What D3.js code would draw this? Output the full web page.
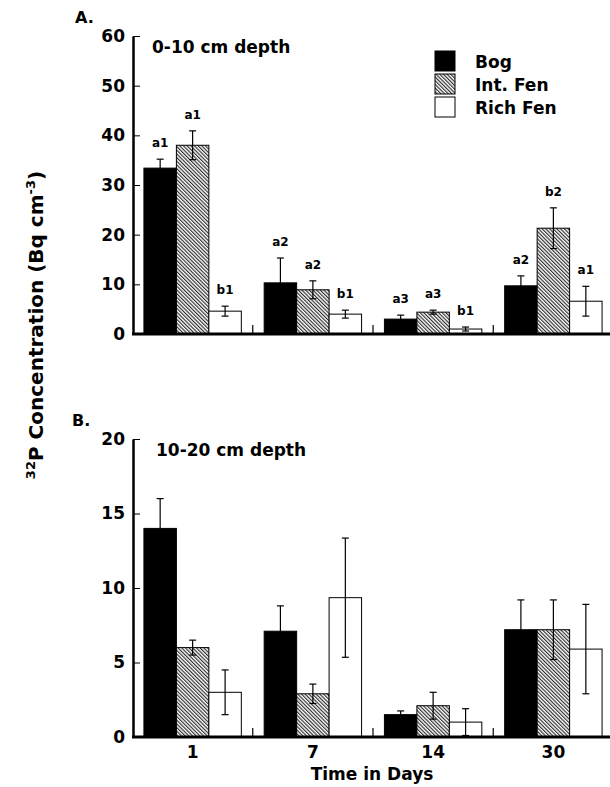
<!DOCTYPE html>
<html lang="en">
<head>
    <meta charset="UTF-8">
    <title>32P Concentration by Depth</title>
    <script src="https://d3js.org/d3.v7.min.js"></script>
    <style>
        body {
            margin: 0;
            background: #fff;
        }
        svg text {
            font-family: "DejaVu Sans", "Liberation Sans", Arial, sans-serif;
            font-weight: bold;
            fill: #000;
        }
        .axis path, .axis line {
            stroke: #000;
        }
        .axis .domain {
            stroke-width: 2.5px;
        }
        .axis .tick line {
            stroke-width: 1px;
        }
        .axis text {
            font-size: 17px;
        }
        .bar {
            stroke: #000;
            stroke-width: 1px;
        }
        .err {
            stroke: #000;
            stroke-width: 1.2px;
        }
        .letter {
            font-size: 12px;
        }
    </style>
</head>
<body>
    <div class="chart"></div>
    <script>
        const days = ['1', '7', '14', '30'];
        const sites = ['Bog', 'Int. Fen', 'Rich Fen'];

        // 0-10 cm depth, one row per site, one value per day
        const shallowMean = [
            [33.4, 10.3, 3.0, 9.7],
            [38.0, 8.9, 4.4, 21.3],
            [4.6, 4.0, 1.0, 6.6]
        ];
        const shallowErr = [
            [1.8, 5.0, 0.8, 2.0],
            [2.9, 1.8, 0.4, 4.1],
            [1.0, 0.8, 0.4, 3.0]
        ];
        const shallowLetters = [
            ['a1', 'a2', 'a3', 'a2'],
            ['a1', 'a2', 'a3', 'b2'],
            ['b1', 'b1', 'b1', 'a1']
        ];

        // 10-20 cm depth
        const deepMean = [
            [14.0, 7.1, 1.5, 7.2],
            [6.0, 2.9, 2.1, 7.2],
            [3.0, 9.35, 1.0, 5.9]
        ];
        const deepErr = [
            [2.0, 1.7, 0.25, 2.0],
            [0.5, 0.65, 0.9, 2.0],
            [1.5, 4.0, 0.9, 3.0]
        ];

        const shallowTicks = [0, 10, 20, 30, 40, 50, 60];
        const deepTicks = [0, 5, 10, 15, 20];

        const width = 610;
        const height = 787;
        const axisX = 133;
        const axisRight = 610;

        const svg = d3.select('.chart').append('svg')
            .attr('width', width)
            .attr('height', height);

        // fine hatch for the intermediate fen
        svg.append('defs').append('pattern')
            .attr('id', 'hatch')
            .attr('patternUnits', 'userSpaceOnUse')
            .attr('width', 2.6)
            .attr('height', 2.6)
            .attr('patternTransform', 'rotate(-45)')
            .call(p => p.append('rect')
                .attr('width', 2.6).attr('height', 2.6).attr('fill', '#fff'))
            .append('line')
            .attr('x1', 0.6).attr('x2', 0.6)
            .attr('y1', 0).attr('y2', 2.6)
            .attr('stroke', '#222')
            .attr('stroke-width', 1.1);

        const fills = ['#000', 'url(#hatch)', '#fff'];

        const x = d3.scaleBand()
            .domain(days)
            .range([132.5, 613.5])
            .paddingInner(0.19)
            .paddingOuter(0.095);

        const sub = d3.scaleBand()
            .domain(d3.range(sites.length))
            .range([0, x.bandwidth()]);

        function drawPanel(opts) {
            const y = d3.scaleLinear()
                .domain([0, d3.max(opts.ticks)])
                .range([opts.bottom, opts.top]);

            const g = svg.append('g');

            // bars
            opts.mean.forEach((row, s) => {
                g.selectAll(null)
                    .data(row)
                    .join('rect')
                    .attr('class', 'bar')
                    .attr('x', (d, i) => x(days[i]) + sub(s))
                    .attr('y', d => y(d))
                    .attr('width', sub.bandwidth())
                    .attr('height', d => y(0) - y(d))
                    .attr('fill', fills[s]);
            });

            // error bars
            opts.mean.forEach((row, s) => {
                const cx = i => x(days[i]) + sub(s) + sub.bandwidth() / 2;
                const eg = g.selectAll(null)
                    .data(row)
                    .join('g')
                    .attr('class', 'err');
                eg.append('line')
                    .attr('x1', (d, i) => cx(i))
                    .attr('x2', (d, i) => cx(i))
                    .attr('y1', (d, i) => y(Math.max(0, d - opts.err[s][i])))
                    .attr('y2', (d, i) => y(d + opts.err[s][i]));
                [1, -1].forEach(sign => {
                    eg.append('line')
                        .attr('x1', (d, i) => cx(i) - 3.5)
                        .attr('x2', (d, i) => cx(i) + 3.5)
                        .attr('y1', (d, i) => y(Math.max(0, d + sign * opts.err[s][i])))
                        .attr('y2', (d, i) => y(Math.max(0, d + sign * opts.err[s][i])));
                });

                if (opts.letters) {
                    g.selectAll(null)
                        .data(row)
                        .join('text')
                        .attr('class', 'letter')
                        .attr('text-anchor', 'middle')
                        .attr('x', (d, i) => cx(i))
                        .attr('y', (d, i) => y(d + opts.err[s][i]) - 12)
                        .text((d, i) => opts.letters[s][i]);
                }
            });

            // y axis, ticks pointing inward
            g.append('g')
                .attr('class', 'axis')
                .attr('transform', `translate(${axisX},0)`)
                .call(d3.axisLeft(y)
                    .tickValues(opts.ticks)
                    .tickSizeInner(-7)
                    .tickSizeOuter(0)
                    .tickPadding(8));

            // baseline
            g.append('line')
                .attr('x1', axisX - 1)
                .attr('x2', axisRight)
                .attr('y1', y(0))
                .attr('y2', y(0))
                .attr('stroke', '#000')
                .attr('stroke-width', 3);

            // short ticks between the day groups
            const step = x.step();
            g.selectAll(null)
                .data(days.slice(0, -1))
                .join('line')
                .attr('x1', d => x(d) + x.bandwidth() + step * x.paddingInner() / 2)
                .attr('x2', d => x(d) + x.bandwidth() + step * x.paddingInner() / 2)
                .attr('y1', y(0))
                .attr('y2', y(0) - 9)
                .attr('stroke', '#000')
                .attr('stroke-width', 1.2);

            g.append('text')
                .attr('x', opts.labelX)
                .attr('y', opts.top - 13)
                .style('font-size', '16px')
                .text(opts.label);

            g.append('text')
                .attr('x', opts.depthX)
                .attr('y', opts.top + 17)
                .style('font-size', '17px')
                .text(opts.depth);

            return y;
        }

        drawPanel({
            mean: shallowMean, err: shallowErr, letters: shallowLetters,
            ticks: shallowTicks, top: 36, bottom: 334,
            label: 'A.', labelX: 75, depth: '0-10 cm depth', depthX: 152
        });

        const yDeep = drawPanel({
            mean: deepMean, err: deepErr, letters: null,
            ticks: deepTicks, top: 439, bottom: 737,
            label: 'B.', labelX: 72, depth: '10-20 cm depth', depthX: 156
        });

        // day labels under the lower panel
        svg.append('g')
            .attr('class', 'axis')
            .attr('transform', `translate(0,${yDeep(0)})`)
            .call(d3.axisBottom(x).tickSize(0).tickPadding(9))
            .call(a => a.select('.domain').remove());

        svg.append('text')
            .attr('x', 372)
            .attr('y', 780)
            .attr('text-anchor', 'middle')
            .style('font-size', '17px')
            .text('Time in Days');

        // y title with superscripts
        const yTitle = svg.append('text')
            .attr('transform', 'translate(43,325) rotate(-90)')
            .attr('text-anchor', 'middle')
            .style('font-size', '20px');
        yTitle.append('tspan').style('font-size', '13px').attr('dy', -8).text('32');
        yTitle.append('tspan').attr('dy', 8).text('P Concentration (Bq cm');
        yTitle.append('tspan').style('font-size', '13px').attr('dy', -8).text('-3');
        yTitle.append('tspan').attr('dy', 8).text(')');

        // legend
        const legend = svg.append('g')
            .attr('transform', 'translate(435,51)');
        const item = legend.selectAll('g')
            .data(sites)
            .join('g')
            .attr('transform', (d, i) => `translate(0,${i * 23})`);
        item.append('rect')
            .attr('class', 'bar')
            .attr('width', 20)
            .attr('height', 20)
            .attr('fill', (d, i) => fills[i]);
        item.append('text')
            .attr('x', 40)
            .attr('y', 17)
            .style('font-size', '17px')
            .text(d => d);
    </script>
</body>
</html>
